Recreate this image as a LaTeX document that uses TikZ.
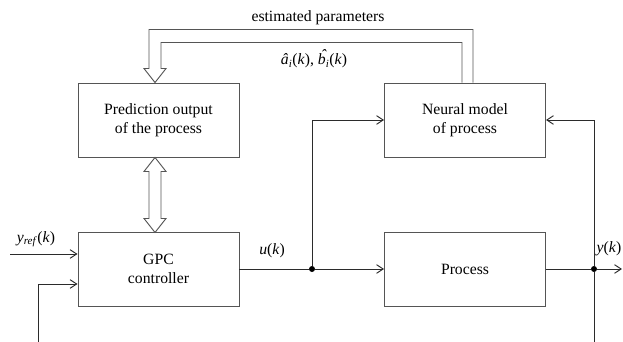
\documentclass[tikz,border=0pt]{standalone}
\usepackage{fontspec}
\setmainfont{Liberation Serif}
\usetikzlibrary{arrows.meta, positioning, calc}
\definecolor{trait}{HTML}{2B2B2B}
\definecolor{cadre}{HTML}{555555}
\newcommand{\sigk}[1]{#1(\textit{k})}
\newcommand{\chapeau}[1]{\ooalign{#1\cr\hidewidth\raisebox{0.25em}{\kern0.22em\char"02C6}\hidewidth\cr}}
\tikzset{
  bloc/.style={draw=cadre, line width=0.8pt, minimum width=4.83cm, minimum height=2.22cm, align=center, inner sep=2pt},
  fleche/.style={draw=trait, line width=0.8pt, -{Straight Barb[length=2mm, width=2.6mm]}},
  ligne/.style={draw=trait, line width=0.8pt},
  creuse/.style={draw=cadre, line width=0.8pt, fill=white, line join=miter},
  point/.style={circle, fill=black, inner sep=0pt, minimum size=0.18cm},
}

\begin{document}
\begin{tikzpicture}[x=0.03cm, y=-0.03cm, every node/.style={font=\fontsize{13.4}{15.8}\selectfont}]
    \useasboundingbox (0,0) rectangle (623,342);
    % Blocs
    \node[bloc] (pred) at (158.5,120) {Prediction output\\of the process};
    \node[bloc] (neural) at (465,120) {Neural model\\of process};
    \node[bloc] (gpc) at (158.5,269) {GPC\\controller};
    \node[bloc] (proc) at (465,269) {Process};
    % Jonctions
    \node[point] (ju) at (312,269) {};
    \node[point] (jy) at (594,269) {};
    \coordinate (yin) at (10,254);
    \coordinate (fb) at (38,342);
    \coordinate (ybas) at (594,342);
    \coordinate (yout) at (622,269);
    % Liaisons
    \draw[fleche] (yin) -- (gpc.west |- yin);
    \draw[fleche] (fb) |- ($(gpc.west)+(0,15)$);
    \draw[ligne] (gpc.east) -- (ju);
    \draw[fleche] (ju) -- (proc.west);
    \draw[fleche] (ju) |- (neural.west);
    \draw[ligne] (proc.east) -- (jy);
    \draw[fleche] (jy) -- (yout);
    \draw[ligne] (ybas) -- (jy);
    \draw[fleche] (jy) |- (neural.east);
    % Fleches creuses
    \draw[creuse] ($(neural.north)+(8,0)$) |- ($(pred.north)+(-9.5,-53)$) -- ++(0,39) -- ++(-5,0)
      -- ++(11,14) -- ++(11,-14) -- ++(-5,0) -- ++(0,-26) -| ($(neural.north)+(-3,0)$);
    \draw[creuse] ($(pred.south)+(-9.5,14)$) -- ++(-5,0) -- ++(11,-14) -- ++(11,14) -- ++(-5,0)
      -- ++(0,47) -- ++(5,0) -- ++(-11,14) -- ++(-11,-14) -- ++(5,0) -- cycle;
    % Etiquettes
    \node (lblest) at (318,18) {estimated parameters};
    \node (lblab) at (314,61) {\sigk{\textit{â}\textsubscript{\textit{i}}}, \sigk{\textit{\chapeau{b}}\textsubscript{\textit{i}}}};
    \node (lblu) at (272,251) {\sigk{\textit{u}}};
    \node (lblref) at (36,239) {\sigk{\textit{y}\textsubscript{\textit{ref}}}};
    \node (lbly) at (609,249) {\sigk{\textit{y}}};
\end{tikzpicture}
\end{document}
